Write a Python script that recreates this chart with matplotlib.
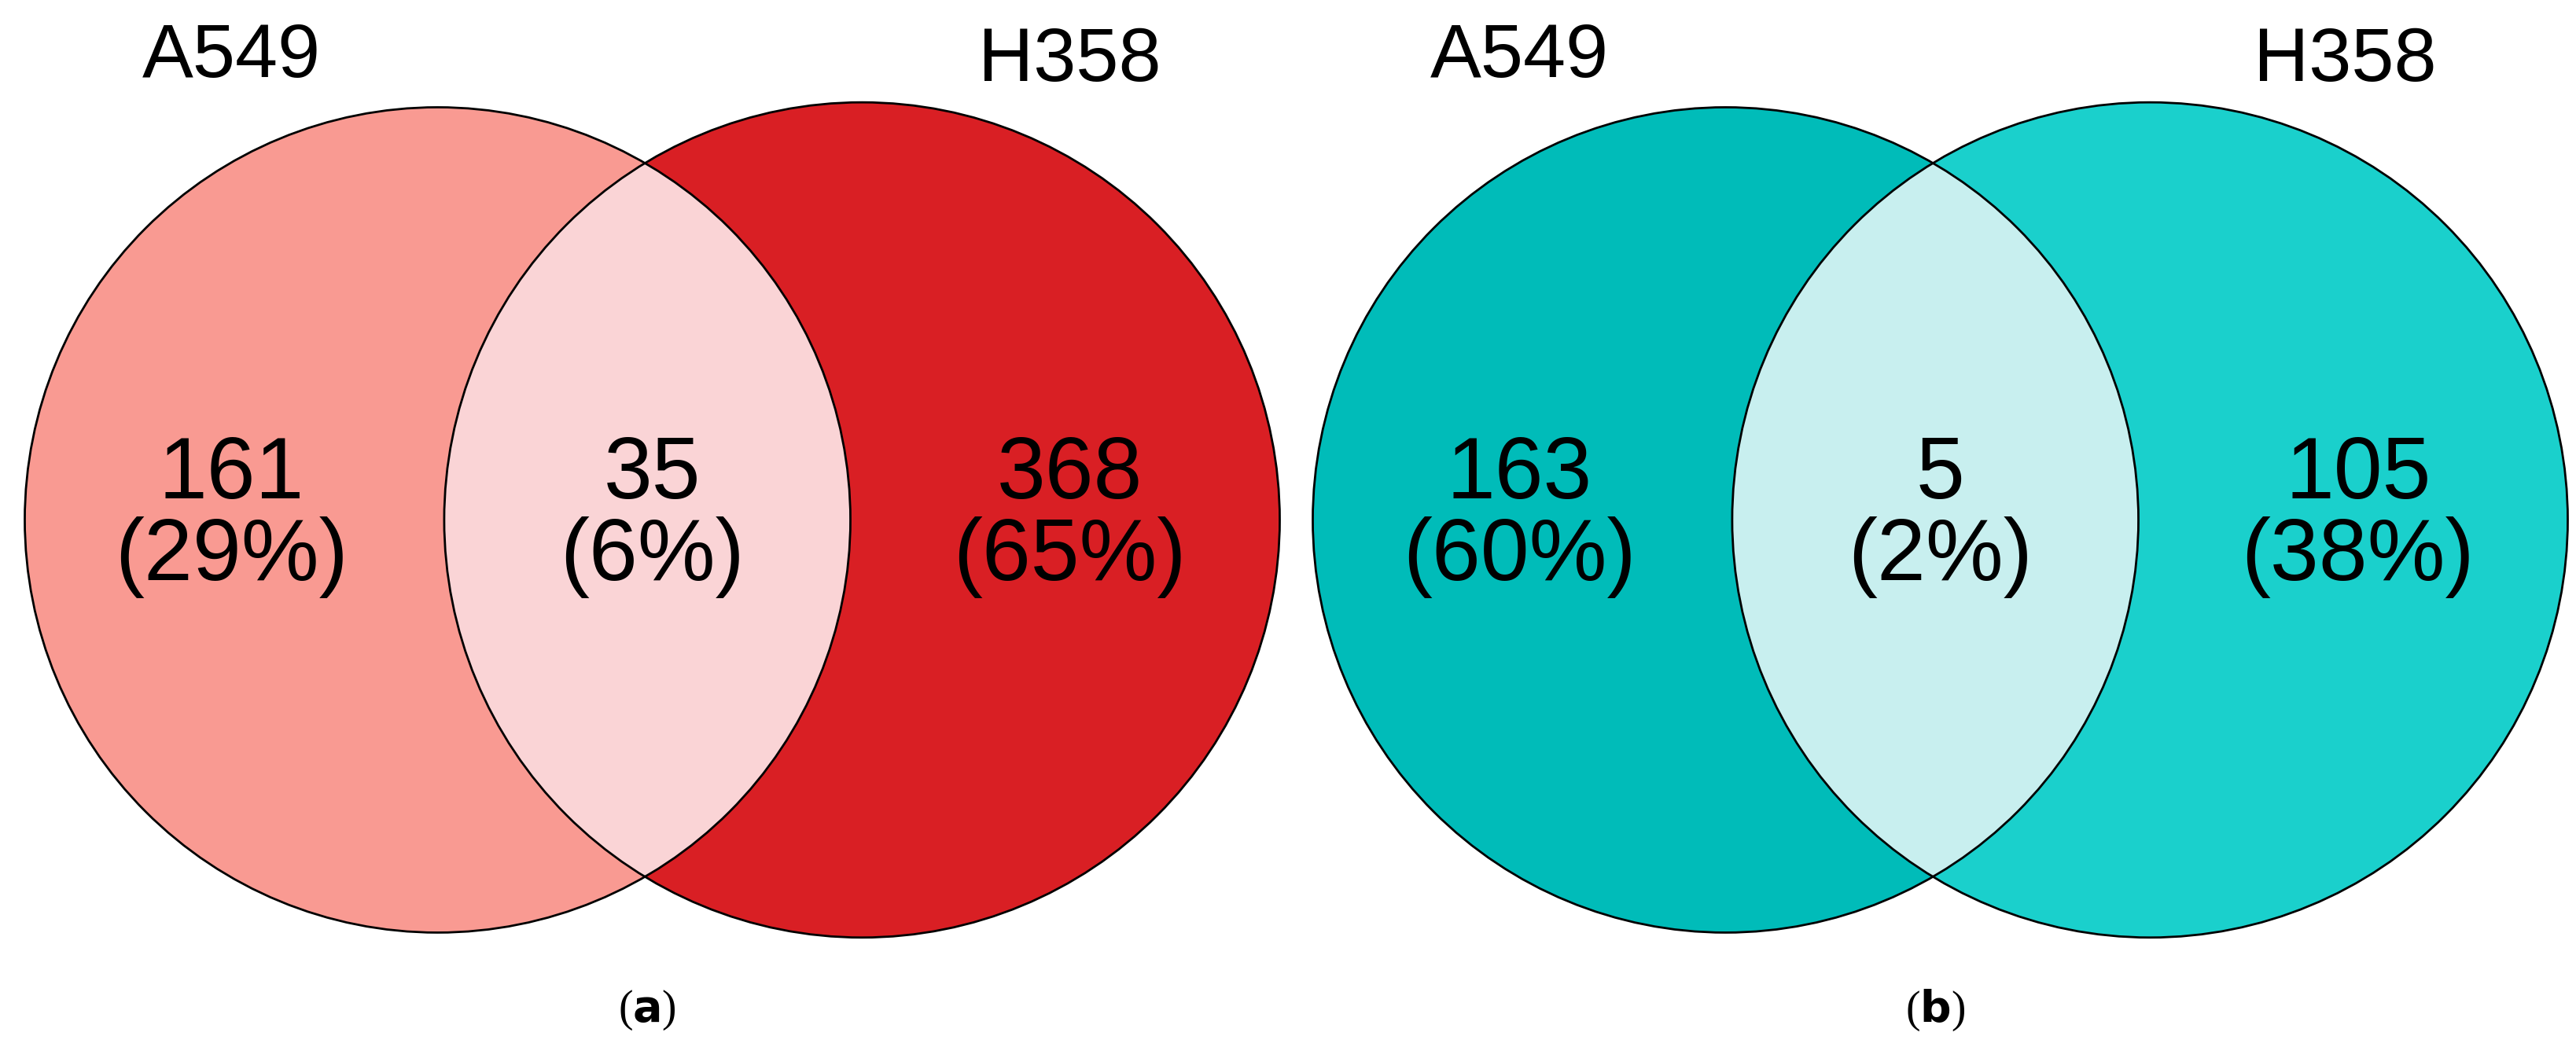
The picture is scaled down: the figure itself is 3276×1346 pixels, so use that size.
import matplotlib.pyplot as plt
from matplotlib.patches import Circle

# Venn panels: counts and percentages per region (A only, both, B only)
set_labels = ["A549", "H358"]
panel_a_counts = [161, 35, 368]
panel_a_pct = [29, 6, 65]
panel_b_counts = [163, 5, 105]
panel_b_pct = [60, 2, 38]
captions = ["a", "b"]

colors_a = ["#F99A92", "#FAD4D6", "#D91F24"]
colors_b = ["#00BCB9", "#C8EFEF", "#1AD0CC"]

W, H = 1560, 641
fig = plt.figure(figsize=(32.76, 13.46), dpi=100)
ax = fig.add_axes([0, 0, 1, 1])
ax.set_xlim(0, W)
ax.set_ylim(H, 0)
ax.axis("off")


def venn(x0, counts, pct, cols, cap, lab_x):
    ca = (x0 + 265, 315)
    cb = (x0 + 522, 315)
    A = Circle(ca, 250, facecolor=cols[0], edgecolor="none")
    B = Circle(cb, 253, facecolor=cols[2], edgecolor="none")
    ax.add_patch(A)
    ax.add_patch(B)
    clip = Circle(ca, 250, transform=ax.transData)
    inter = Circle(cb, 253, facecolor=cols[1], edgecolor="none")
    ax.add_patch(inter)
    inter.set_clip_path(clip)
    for c, r in [(ca, 250), (cb, 253)]:
        ax.add_patch(Circle(c, r, facecolor="none", edgecolor="black", lw=2))
    xs = [x0 + 140, x0 + 395, x0 + 648]
    for x, n, p in zip(xs, counts, pct):
        ax.text(x, 313, f"{n}\n({p}%)", ha="center", va="center",
                fontsize=80, linespacing=1.0, family="Liberation Sans")
    ax.text(lab_x[0], 35, set_labels[0], ha="center", va="center", fontsize=70,
            family="Liberation Sans")
    ax.text(lab_x[1], 37, set_labels[1], ha="center", va="center", fontsize=70,
            family="Liberation Sans")
    ax.text(x0 + 392, 612, f"($\\bf{{{cap}}}$)", ha="center", va="center",
            fontsize=40, family="Liberation Serif")


venn(0, panel_a_counts, panel_a_pct, colors_a, captions[0], (140, 648))
venn(780, panel_b_counts, panel_b_pct, colors_b, captions[1], (920, 1420))

fig.savefig("out.png", dpi=100)
